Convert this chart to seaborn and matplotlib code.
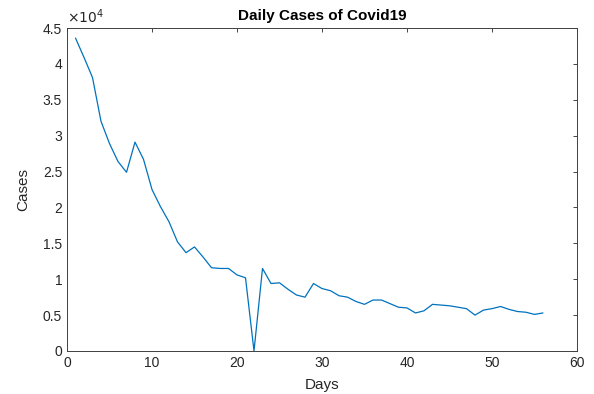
import matplotlib
matplotlib.use("Agg")
import matplotlib.pyplot as plt
import matplotlib.ticker as mticker
import seaborn as sns
import pandas as pd

days = list(range(1, 57))
cases = [43600, 40900, 38100, 32000, 28900, 26400, 24900, 29100, 26700, 22500,
         20100, 18000, 15200, 13700, 14500, 13100, 11600, 11500, 11500, 10600,
         10200, 0, 11500, 9400, 9500, 8600, 7800, 7500, 9400, 8700,
         8400, 7700, 7500, 6900, 6500, 7100, 7100, 6600, 6100, 6000,
         5300, 5600, 6500, 6400, 6300, 6100, 5900, 5000, 5700, 5900,
         6200, 5800, 5500, 5400, 5100, 5300]

df = pd.DataFrame({"Days": days, "Cases": cases})

sns.set_style("white")
plt.rcParams['font.family'] = ['Liberation Sans', 'DejaVu Sans']

fig = plt.figure(figsize=(5.94, 3.94), dpi=100)
ax = fig.add_axes([67/594, 1-351/394, (577-67)/594, (351-28)/394])
sns.lineplot(data=df, x="Days", y="Cases", ax=ax, color="#0072BD", linewidth=0.9)

ax.set_xlim(0, 60)
ax.set_ylim(0, 45000)
ax.set_xticks(range(0, 61, 10))
ax.set_yticks([i * 5000 for i in range(10)])
ax.yaxis.set_major_formatter(mticker.FuncFormatter(lambda v, p: "%g" % (v / 1e4)))
ax.tick_params(direction="in", length=3, width=0.6, colors="#262626",
               labelsize=10, top=True, right=True, labeltop=False, labelright=False)
for s in ax.spines.values():
    s.set_color("#404040")
    s.set_linewidth(0.7)
    s.set_visible(True)
ax.set_xlabel("Days", fontsize=11, color="#262626", labelpad=6)
ax.set_ylabel("Cases", fontsize=11, color="#262626", labelpad=9)
ax.set_title("Daily Cases of Covid19", fontsize=11, fontweight="bold", color="black", pad=6)
ax.text(0, 1.005, r"$\times 10^4$", transform=ax.transAxes, fontsize=10,
        color="#262626", va="bottom", ha="left")

fig.savefig("out.png", dpi=100)
